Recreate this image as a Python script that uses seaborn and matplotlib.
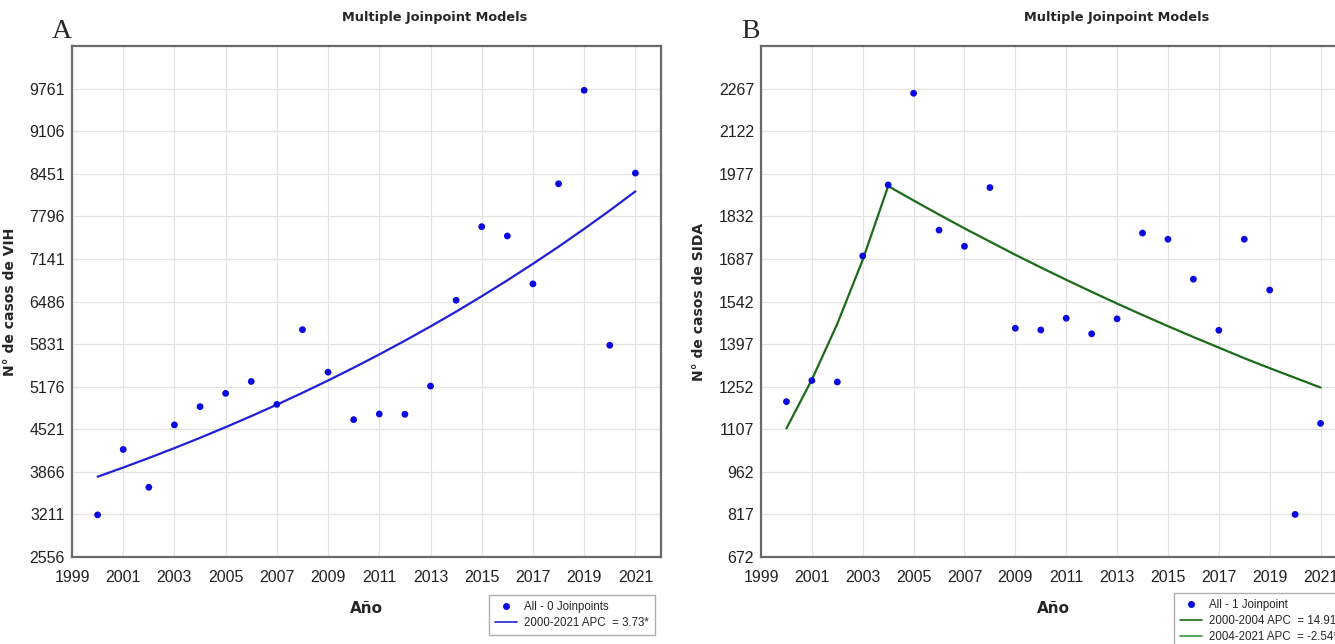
import numpy as np
import pandas as pd
import matplotlib
matplotlib.use('Agg')
import matplotlib.pyplot as plt
from matplotlib.lines import Line2D
from matplotlib import font_manager
import seaborn as sns

# ==========================================
# DATA
# ==========================================
anios = list(range(2000, 2022))

# Panel A: casos de VIH
vih_obs = [3204, 4210, 3628, 4588, 4869, 5073, 5256, 4904, 6053, 5399, 4669,
           4756, 4751, 5185, 6505, 7637, 7494, 6757, 8297, 9735, 5813, 8461]
vih_modelo = [3791, 3932, 4079, 4231, 4389, 4553, 4723, 4899, 5082, 5271, 5468,
              5672, 5883, 6103, 6330, 6567, 6812, 7066, 7329, 7603, 7886, 8180]

# Panel B: casos de SIDA
sida_obs = [1201, 1273, 1268, 1697, 1939, 2251, 1785, 1730, 1930, 1451, 1445,
            1485, 1432, 1483, 1775, 1754, 1618, 1444, 1754, 1581, 817, 1127]
seg1_anios = [2000, 2001, 2002, 2003, 2004]
seg1_modelo = [1110, 1276, 1466, 1684, 1935]
seg2_anios = list(range(2004, 2022))
seg2_modelo = [1935, 1886, 1838, 1791, 1746, 1701, 1658, 1616, 1575, 1535,
               1496, 1458, 1421, 1385, 1349, 1315, 1282, 1249]

vih_ticks = [2556, 3211, 3866, 4521, 5176, 5831, 6486, 7141, 7796, 8451, 9106, 9761]
sida_ticks = [672, 817, 962, 1107, 1252, 1397, 1542, 1687, 1832, 1977, 2122, 2267]
x_ticks = list(range(1999, 2022, 2))

df_vih = pd.DataFrame({'anio': anios, 'obs': vih_obs, 'modelo': vih_modelo})
df_sida = pd.DataFrame({'anio': anios, 'obs': sida_obs})
df_seg1 = pd.DataFrame({'anio': seg1_anios, 'modelo': seg1_modelo})
df_seg2 = pd.DataFrame({'anio': seg2_anios, 'modelo': seg2_modelo})

# ==========================================
# ESTILO
# ==========================================
sns.set_style('white')
plt.rcParams['font.family'] = ['DejaVu Sans']

nombres = {f.name for f in font_manager.fontManager.ttflist}
fuente_leyenda = 'Liberation Sans Narrow' if 'Liberation Sans Narrow' in nombres else 'Liberation Sans'
talla_leyenda = 10.3 if fuente_leyenda == 'Liberation Sans Narrow' else 8.3

W, H = 1335, 644
fig = plt.figure(figsize=(W / 100, H / 100), dpi=100)

punto = '#0a0ae0'
azul = '#2020d8'
verde1 = '#1b6b1b'
verde2 = '#3d9a3d'


def estilo_ejes(ax, ticks, ylim):
    ax.set_xlim(1999, 2022)
    ax.set_ylim(*ylim)
    ax.set_xticks(x_ticks)
    ax.set_yticks(ticks)
    ax.grid(True, color='#e3e3e3', linewidth=0.9)
    ax.tick_params(axis='both', length=0, labelsize=11.5, colors='#222222')
    ax.tick_params(axis='x', pad=9)
    ax.tick_params(axis='y', pad=5)
    for lab in ax.get_xticklabels() + ax.get_yticklabels():
        lab.set_family('Liberation Sans')
    for s in ax.spines.values():
        s.set_color('#6a6a6a')
        s.set_linewidth(1.6)
    ax.set_xlabel('Año', fontsize=11, fontweight='bold')
    ax.xaxis.set_label_coords(0.5, -0.086)


def leyenda(handles, textos, x, y):
    fig.legend(handles, textos, loc='upper left', bbox_to_anchor=(x / W, 1 - y / H),
               frameon=True, fancybox=False, edgecolor='#9a9a9a',
               handlelength=1.9, borderpad=0.55, labelspacing=0.35, handletextpad=0.6,
               prop={'family': fuente_leyenda, 'size': talla_leyenda})


# ==========================================
# PANEL A
# ==========================================
axA = fig.add_axes([72 / W, 1 - 557 / H, 589 / W, 511 / H])
sns.lineplot(data=df_vih, x='anio', y='modelo', color=azul, linewidth=1.6, ax=axA)
sns.scatterplot(data=df_vih, x='anio', y='obs', color=punto, s=24,
                edgecolor='none', ax=axA, zorder=3)
estilo_ejes(axA, vih_ticks, (2556, 10416))
axA.set_ylabel('N° de casos de VIH', fontsize=10, fontweight='bold')
axA.yaxis.set_label_coords(-0.093, 0.5)

legA = [Line2D([], [], marker='o', color=punto, linestyle='none', markersize=4),
        Line2D([], [], color=azul, linewidth=1.2)]
leyenda(legA, ['All - 0 Joinpoints', '2000-2021 APC  = 3.73*'], 483, 589)

fig.text(435 / W, 1 - 17 / H, 'Multiple Joinpoint Models', ha='center', va='center',
         fontsize=9.3, fontweight='bold')
fig.text(62 / W, 1 - 32 / H, 'A', ha='center', va='center', fontsize=20,
         family='Liberation Serif')

# ==========================================
# PANEL B
# ==========================================
axB = fig.add_axes([761 / W, 1 - 557 / H, 585 / W, 511 / H])
sns.lineplot(data=df_seg1, x='anio', y='modelo', color=verde1, linewidth=1.6, ax=axB)
sns.lineplot(data=df_seg2, x='anio', y='modelo', color=verde1, linewidth=1.6, ax=axB)
sns.scatterplot(data=df_sida, x='anio', y='obs', color=punto, s=24,
                edgecolor='none', ax=axB, zorder=3)
estilo_ejes(axB, sida_ticks, (672, 2412))
axB.set_ylabel('N° de casos de SIDA', fontsize=10, fontweight='bold')
axB.yaxis.set_label_coords(-0.094, 0.5)

legB = [Line2D([], [], marker='o', color=punto, linestyle='none', markersize=4),
        Line2D([], [], color=verde1, linewidth=1.2),
        Line2D([], [], color=verde2, linewidth=1.2)]
leyenda(legB, ['All - 1 Joinpoint', '2000-2004 APC  = 14.91', '2004-2021 APC  = -2.54*'],
        1168, 587)

fig.text(1117 / W, 1 - 17 / H, 'Multiple Joinpoint Models', ha='center', va='center',
         fontsize=9.3, fontweight='bold')
fig.text(750 / W, 1 - 32 / H, 'B', ha='center', va='center', fontsize=20,
         family='Liberation Serif')

plt.savefig('out.png', dpi=100)
